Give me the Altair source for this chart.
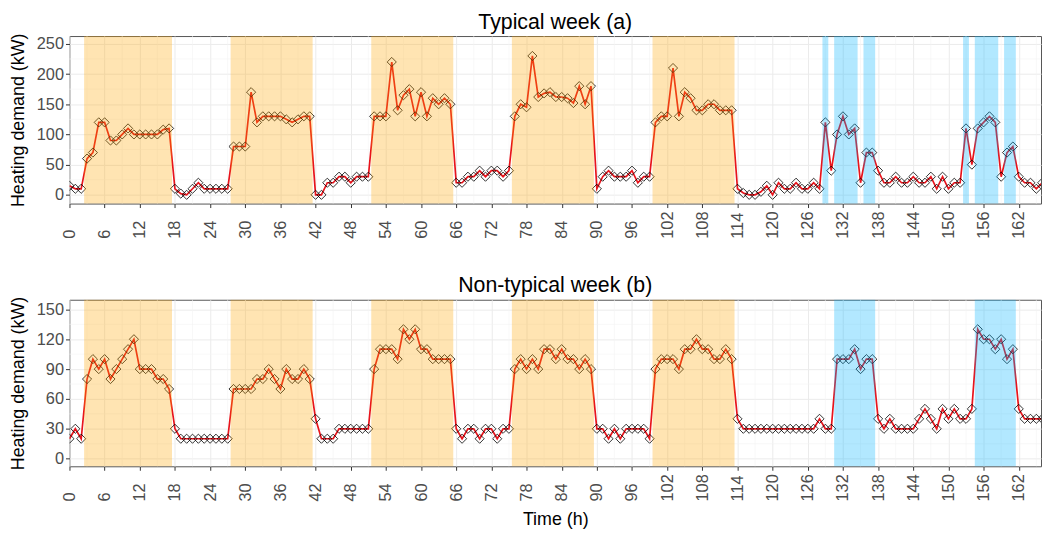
import altair as alt
import pandas as pd

hours = list(range(168))

typical = [15, 10, 10, 60, 70, 120, 120, 90, 90, 100,
           110, 100, 100, 100, 100, 100, 108, 110, 10, 2,
           0, 10, 20, 10, 10, 10, 10, 10, 80, 80,
           80, 170, 120, 130, 130, 130, 130, 125, 120, 125,
           130, 130, 0, 0, 20, 20, 30, 30, 20, 30,
           30, 30, 130, 130, 130, 220, 140, 165, 175, 130,
           170, 130, 160, 150, 160, 150, 20, 20, 30, 30,
           40, 30, 40, 40, 30, 40, 130, 150, 145, 230,
           162, 168, 170, 162, 162, 160, 152, 180, 150, 180,
           10, 30, 40, 30, 30, 30, 40, 20, 30, 30,
           120, 130, 130, 210, 130, 170, 160, 140, 140, 150,
           150, 140, 140, 140, 10, 3, 0, 0, 5, 15,
           0, 20, 10, 10, 20, 10, 10, 20, 10, 120,
           40, 100, 130, 100, 110, 20, 70, 70, 40, 20,
           20, 30, 20, 20, 30, 20, 20, 30, 10, 30,
           10, 20, 20, 110, 50, 110, 120, 130, 120, 30,
           70, 80, 30, 20, 20, 10, 20, 20]

nontypical = [20, 30, 20, 80, 100, 90, 100, 80, 90, 100,
              110, 120, 90, 90, 90, 80, 80, 70, 30, 20,
              20, 20, 20, 20, 20, 20, 20, 20, 70, 70,
              70, 70, 80, 80, 90, 80, 70, 90, 80, 80,
              90, 80, 40, 20, 20, 20, 30, 30, 30, 30,
              30, 30, 90, 110, 110, 110, 100, 130, 120, 130,
              110, 110, 100, 100, 100, 100, 30, 20, 30, 30,
              20, 30, 30, 20, 30, 30, 90, 100, 90, 100,
              90, 110, 110, 100, 110, 100, 100, 90, 100, 90,
              30, 30, 20, 30, 20, 30, 30, 30, 30, 20,
              90, 100, 100, 100, 90, 110, 110, 120, 110, 110,
              100, 100, 110, 100, 40, 30, 30, 30, 30, 30,
              30, 30, 30, 30, 30, 30, 30, 30, 40, 30,
              30, 100, 100, 100, 110, 90, 100, 100, 40, 30,
              40, 30, 30, 30, 30, 40, 50, 40, 30, 50,
              40, 50, 40, 40, 50, 130, 120, 120, 110, 120,
              100, 110, 50, 40, 40, 40, 40, 40]

orange_start = [2.5, 27.5, 51.5, 75.5, 99.5]
orange_end = [17.5, 41.5, 65.5, 89.5, 113.5]
blue_a_start = [128.5, 130.5, 135.5, 152.5, 154.5, 159.5]
blue_a_end = [129.5, 134.5, 137.5, 153.5, 158.5, 161.5]
blue_b_start = [130.5, 154.5]
blue_b_end = [137.5, 161.5]

x_ticks = list(range(0, 163, 6))
x_minor = list(range(3, 166, 6))
ya_ticks = [0, 50, 100, 150, 200, 250]
ya_minor = [25, 75, 125, 175, 225]
yb_ticks = [0, 30, 60, 90, 120, 150]
yb_minor = [15, 45, 75, 105, 135]

FONT = "Liberation Sans"
W = 980
LBL = 16.5


def panel(values, bs, be, title, ydom, yticks, yminor, height, xtitle):
    xs = alt.Scale(domain=[0, 165.8], nice=False, zero=False)
    ys = alt.Scale(domain=ydom, nice=False, zero=False)
    xaxis = alt.Axis(values=x_ticks, labelAngle=270, labelAlign="left",
                     labelBaseline="middle", title=xtitle,
                     grid=True, gridColor="#EBEBEB", gridWidth=1,
                     tickColor="#333333", tickSize=4, labelPadding=31,
                     labelFontSize=LBL, labelColor="#4D4D4D", labelFont=FONT,
                     titleFont=FONT, titleFontSize=18, titleFontWeight="normal",
                     titleColor="black", titlePadding=10, domain=False,
                     labelFlush=False)
    yaxis = alt.Axis(values=yticks, title="Heating demand (kW)",
                     grid=True, gridColor="#EBEBEB", gridWidth=1,
                     tickColor="#333333", tickSize=4, labelPadding=2,
                     labelFontSize=LBL, labelColor="#4D4D4D", labelFont=FONT,
                     titleFont=FONT, titleFontSize=18, titleFontWeight="normal",
                     titleColor="black", titlePadding=9, domain=False,
                     labelFlush=False)

    def X(f):
        return alt.X(f, scale=xs, axis=xaxis)

    def Y(f):
        return alt.Y(f, scale=ys, axis=yaxis)

    df = pd.DataFrame({"hour": hours, "demand": values})
    xm = pd.DataFrame({"v": x_minor})
    ym = pd.DataFrame({"v": yminor})
    orange = pd.DataFrame({"start": orange_start, "end": orange_end})
    blue = pd.DataFrame({"start": bs, "end": be})

    xgrid = alt.Chart(xm).mark_rule(color="#F3F3F3", strokeWidth=0.6).encode(x=X("v:Q"))
    ygrid = alt.Chart(ym).mark_rule(color="#F3F3F3", strokeWidth=0.6).encode(y=Y("v:Q"))
    line = alt.Chart(df).mark_line(color="#E8141C", strokeWidth=1.7, clip=True).encode(
        x=X("hour:Q"), y=Y("demand:Q"))
    pts = alt.Chart(df).mark_point(shape="diamond", filled=False, color="black",
                                   size=85, strokeWidth=0.8, opacity=1, clip=True).encode(
        x=X("hour:Q"), y=Y("demand:Q"))
    orect = alt.Chart(orange).mark_rect(color="#FFA500", opacity=0.3).encode(
        x=X("start:Q"), x2="end:Q", y=alt.value(0), y2=alt.value(height))
    brect = alt.Chart(blue).mark_rect(color="#00B2FF", opacity=0.3).encode(
        x=X("start:Q"), x2="end:Q", y=alt.value(0), y2=alt.value(height))

    return alt.layer(xgrid, ygrid, line, pts, orect, brect).properties(
        width=W, height=height,
        title=alt.TitleParams(title, fontSize=21.5, font=FONT, fontWeight="normal",
                              color="black", anchor="middle", offset=0))


top = panel(typical, blue_a_start, blue_a_end, "Typical week (a)",
            [-14.5, 263], ya_ticks, ya_minor, 169, None)
bottom = panel(nontypical, blue_b_start, blue_b_end, "Non-typical week (b)",
               [-7.7, 159.7], yb_ticks, yb_minor, 168, "Time (h)")

chart = alt.vconcat(top, bottom, spacing=35).properties(
    padding={"left": 0, "top": 0, "right": 0, "bottom": 0}
).configure_view(stroke="#555555", strokeWidth=1)

chart.save("out.html", embed_options={"renderer": "svg", "actions": False})
